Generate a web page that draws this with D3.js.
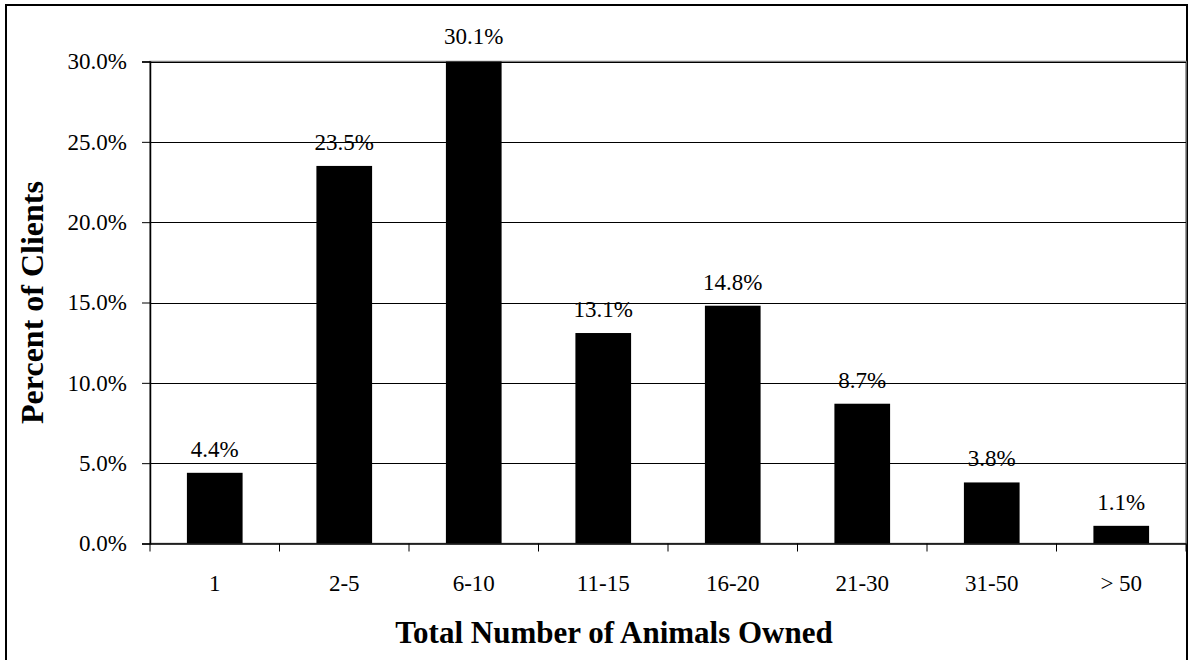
<!DOCTYPE html>
<html>
<head>
<meta charset="utf-8">
<script src="https://cdn.jsdelivr.net/npm/d3@7"></script>
<style>
  html, body { margin: 0; padding: 0; background: #fff; }
  svg { display: block; }
  text { font-family: "Liberation Serif", "Times New Roman", serif; fill: #000; }
</style>
</head>
<body>
<svg id="chart" width="1196" height="660"></svg>
<script>
const categories = ["1", "2-5", "6-10", "11-15", "16-20", "21-30", "31-50", "> 50"];
const values = [4.4, 23.5, 30.1, 13.1, 14.8, 8.7, 3.8, 1.1];
const yTicks = [0, 5, 10, 15, 20, 25, 30];
const xTitle = "Total Number of Animals Owned";
const yTitle = "Percent of Clients";

const svg = d3.select("#chart");
const W = 1196, H = 660;
const plot = { left: 150, top: 61.5, right: 1186, bottom: 543.5 };

svg.append("rect").attr("x", 0).attr("y", 0).attr("width", W).attr("height", H).attr("fill", "#fff");

// outer chart border
svg.append("rect")
  .attr("x", 6).attr("y", 5)
  .attr("width", 1181).attr("height", 700)
  .attr("fill", "none").attr("stroke", "#000").attr("stroke-width", 2);

const x = d3.scaleBand().domain(categories).range([plot.left, plot.right]).paddingInner(0).paddingOuter(0);
const y = d3.scaleLinear().domain([0, 30]).range([plot.bottom, plot.top]);

// plot area border
svg.append("rect")
  .attr("x", plot.left).attr("y", plot.top)
  .attr("width", plot.right - plot.left).attr("height", plot.bottom - plot.top)
  .attr("fill", "#fff").attr("stroke", "#808080").attr("stroke-width", 1.5);

// gridlines
svg.append("g").selectAll("line").data(yTicks.filter(d => d > 0)).join("line")
  .attr("x1", plot.left).attr("x2", plot.right)
  .attr("y1", d => Math.round(y(d)) + 0.5).attr("y2", d => Math.round(y(d)) + 0.5)
  .attr("stroke", "#000").attr("stroke-width", 1);

// clip for bars
svg.append("clipPath").attr("id", "clip").append("rect")
  .attr("x", plot.left).attr("y", plot.top)
  .attr("width", plot.right - plot.left).attr("height", plot.bottom - plot.top);

const barW = x.bandwidth() * 0.43;
svg.append("g").attr("clip-path", "url(#clip)").selectAll("rect").data(values).join("rect")
  .attr("x", (d, i) => x(categories[i]) + (x.bandwidth() - barW) / 2)
  .attr("y", d => y(d))
  .attr("width", barW)
  .attr("height", d => plot.bottom - y(d))
  .attr("fill", "#000");

// y axis
const yAxis = d3.axisLeft(y).tickValues(yTicks).tickSize(8).tickPadding(15)
  .tickFormat(d => d3.format(".1f")(d) + "%");
const gy = svg.append("g").attr("transform", `translate(${plot.left},0)`).call(yAxis);
gy.select(".domain").attr("stroke", "#000").attr("stroke-width", 1.5);
gy.selectAll(".tick line").attr("stroke", "#000");
gy.selectAll(".tick text").attr("font-size", 23).attr("fill", "#000");

// x axis
const xAxis = d3.axisBottom(x).tickSize(0).tickPadding(0);
const gx = svg.append("g").attr("transform", `translate(0,${plot.bottom})`).call(xAxis);
gx.select(".domain").attr("stroke", "#000").attr("stroke-width", 1.5);
gx.selectAll(".tick text").attr("font-size", 23)
  .attr("fill", "#000").attr("dy", null).attr("y", 47);
// boundary ticks between categories
const bounds = categories.map(c => x(c)).concat([plot.right]);
svg.append("g").selectAll("line").data(bounds).join("line")
  .attr("x1", d => d).attr("x2", d => d)
  .attr("y1", plot.bottom).attr("y2", plot.bottom + 8)
  .attr("stroke", "#000").attr("stroke-width", 1);

// data labels
svg.append("g").selectAll("text").data(values).join("text")
  .attr("x", (d, i) => x(categories[i]) + x.bandwidth() / 2)
  .attr("y", d => y(d) - 16)
  .attr("text-anchor", "middle")
  .attr("font-size", 23)
  .text(d => d3.format(".1f")(d) + "%");

// axis titles
svg.append("text")
  .attr("x", 614).attr("y", 642.5)
  .attr("text-anchor", "middle")
  .attr("font-size", 31).attr("font-weight", "bold")
  .text(xTitle);

svg.append("text")
  .attr("transform", `translate(43,${(plot.top + plot.bottom) / 2}) rotate(-90)`)
  .attr("text-anchor", "middle")
  .attr("font-size", 32).attr("font-weight", "bold")
  .text(yTitle);
</script>
</body>
</html>
